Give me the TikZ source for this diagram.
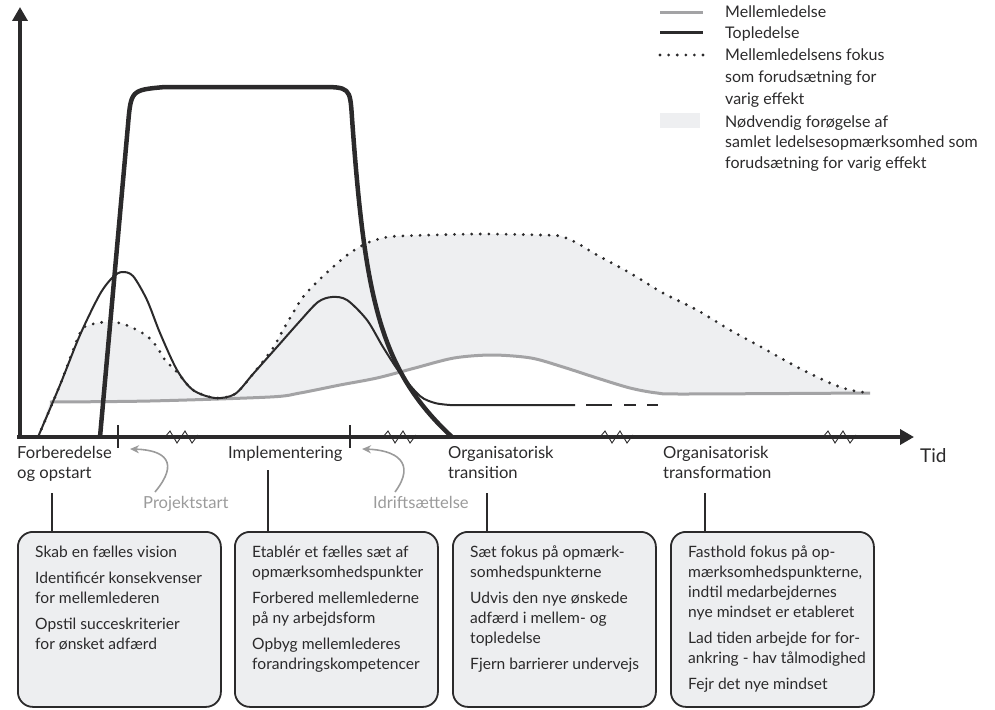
\documentclass[tikz,border=0pt]{standalone}
\usepackage{fontspec}
\setmainfont{Lato}
\usetikzlibrary{arrows.meta,positioning}
\definecolor{ink}{HTML}{2B2A2B}
\definecolor{midgray}{HTML}{A3A3A5}
\definecolor{areafill}{HTML}{EEEFF1}
\definecolor{boxfill}{HTML}{EDEEF0}
\definecolor{labelgray}{HTML}{9B9B9B}
\tikzset{
  akse/.style={line width=4pt,ink,-{Triangle[length=14pt,width=15pt]}},
  toplinje/.style={line width=4.5pt,ink,line join=round},
  topthin/.style={line width=2pt,ink},
  midlinje/.style={line width=3pt,midgray},
  fokus/.style={line width=3.1pt,ink,line cap=round,dash pattern=on 0pt off 8.6pt},
  brk/.style={line width=0.9pt,ink},
  tickline/.style={line width=2pt,ink},
  phase/.style={font=\fontsize{16.6}{20}\selectfont,text=ink,align=left,inner sep=0pt,anchor=base west},
  milestone/.style={phase,text=labelgray},
  gpil/.style={line width=1.6pt,labelgray,-{Stealth[length=9pt,width=8pt]}},
  conn/.style={line width=1.5pt,ink},
  stagebox/.style={draw=ink,line width=1.8pt,fill=boxfill,rounded corners=15pt,minimum width=203pt,minimum height=175pt,anchor=north west,inner sep=0pt},
  stagetext/.style={font=\fontsize{15.6}{20}\selectfont,text=ink,align=left,inner sep=0pt,anchor=north west},
  legtext/.style={font=\fontsize{16}{20.5}\selectfont,text=ink,align=left,inner sep=0pt,anchor=base west}
}
\begin{document}
\begin{tikzpicture}[x=1pt,y=-1pt]
\useasboundingbox (0,0) rectangle (995,709);
% shaded area between fokus and mellemledelse
\fill[areafill] plot[smooth] coordinates {(38,437) (60,385) (80,333) (90,325) (105,322) (120,323) (133,328) (147,336) (157,347) (165,360) (177,372) (193,390) (215,398) (235,394) (253,374) (273,348) (283,330) (293,313) (303,297) (317,282) (333,267) (350,253) (367,243) (383,238) (400,236) (480,234) (540,235) (560,236) (577,243) (597,255) (630,273) (663,293) (697,310) (730,330) (763,348) (797,367) (830,383) (850,390) (870,393)}
  -- plot[smooth] coordinates {(870,393) (685,394) (657,393) (630,388) (597,378) (563,367) (531,358) (492,355) (454,358) (415,368) (377,378) (340,385) (300,393) (270,397) (150,401) (50,402)} -- cycle;
% mellemledelse
\draw[midlinje] plot[smooth] coordinates {(50,402) (150,401) (270,397) (300,393) (340,385) (377,378) (415,368) (454,358) (492,355) (531,358) (563,367) (597,378) (630,388) (657,393) (685,394) (870,393)};
% fokus
\draw[fokus] plot[smooth] coordinates {(38,437) (60,385) (80,333) (90,325) (105,322) (120,323) (133,328) (147,336) (157,347) (165,360) (177,372) (193,390) (215,398) (235,394) (253,374) (273,348) (283,330) (293,313) (303,297) (317,282) (333,267) (350,253) (367,243) (383,238) (400,236) (480,234) (540,235) (560,236) (577,243) (597,255) (630,273) (663,293) (697,310) (730,330) (763,348) (797,367) (830,383) (850,390) (870,393)};
% topledelse, tynd
\draw[topthin] plot[smooth] coordinates {(38,437) (60,385) (80,335) (100,294) (113,277) (122,272) (133,276) (147,300) (160,333) (177,370) (193,390) (215,398) (235,394) (253,374) (277,347) (300,321) (318,302) (332,297) (347,300) (367,320) (383,347) (400,373) (420,396) (435,403) (450,405)} -- (575,405);
\draw[topthin] (586,405) -- (612,405) (624,405) -- (636,405) (647,405) -- (658,405);
% topledelse, tyk
\draw[toplinje] (100,437) -- (128,125) .. controls (131,90) .. (165,87) -- (318,87) .. controls (350,87) .. (352,118) .. controls (365,300) and (380,370) .. (452,437);
% akser
\coordinate (O) at (20,437);
\coordinate (ytop) at (20,7);
\coordinate (xstart) at (17,437);
\coordinate (xend) at (914,437);
\draw[akse] (O) -- (ytop);
\draw[akse] (xstart) -- (xend);
\draw[tickline] (118,425) -- (118,448);
\draw[tickline] (350,425) -- (350,448);
\foreach \z in {165,383,600,823}
  \draw[brk] (\z,437) -- ++(5,-6) -- ++(7,12) -- ++(8,-12) -- ++(7,12) -- ++(6,-8);
% faser
\node[phase] (fo) at (17,478) {Forberedelse\\og opstart};
\node[phase] (im) at (228,458) {Implementering};
\node[phase] (ot) at (448,478) {Organisatorisk\\transition};
\node[phase] (of) at (663,478) {Organisatorisk\\transformation};
\node[phase,font=\fontsize{19}{22}\selectfont] (tid) at (920,462) {Tid};
\node[milestone] (ps) at (143,508) {Projektstart};
\node[milestone] (id) at (373,508) {Idriftsættelse};
\coordinate (pstip) at (130,449);
\coordinate (idtip) at (362,449);
\draw[gpil] ([xshift=12pt,yshift=16pt]ps.base west) .. controls +(25,-30) and +(35,1) .. (pstip);
\draw[gpil] ([xshift=22pt,yshift=16pt]id.base west) .. controls +(22,-30) and +(33,1) .. (idtip);
% bokse
\node[stagebox] (b1) at (17,531) {};
\node[stagebox] (b2) at (234,531) {};
\node[stagebox] (b3) at (452,531) {};
\node[stagebox] (b4) at (670,531) {};
\draw[conn] ([xshift=35pt,yshift=-15pt]fo.base west) -- ([xshift=35pt]b1.north west);
\draw[conn] ([xshift=40pt,yshift=-12pt]im.base west) -- ([xshift=34pt]b2.north west);
\draw[conn] ([xshift=39pt,yshift=-15pt]ot.base west) -- ([xshift=35pt]b3.north west);
\draw[conn] ([xshift=42pt,yshift=-15pt]of.base west) -- ([xshift=35pt]b4.north west);
\node[stagetext] (t1) at ([xshift=18pt,yshift=-15pt]b1.north west) {Skab en fælles vision\\[6pt]Identificér konsekvenser\\for mellemlederen\\[6pt]Opstil succeskriterier\\for ønsket adfærd};
\node[stagetext] (t2) at ([xshift=18pt,yshift=-15pt]b2.north west) {Etablér et fælles sæt af\\opmærksomhedspunkter\\[6pt]Forbered mellemlederne\\på ny arbejdsform\\[6pt]Opbyg mellemlederes\\forandringskompetencer};
\node[stagetext] (t3) at ([xshift=18pt,yshift=-15pt]b3.north west) {Sæt fokus på opmærk-\\somhedspunkterne\\[6pt]Udvis den nye ønskede\\adfærd i mellem- og\\topledelse\\[6pt]Fjern barrierer undervejs};
\node[stagetext] (t4) at ([xshift=18pt,yshift=-15pt]b4.north west) {Fasthold fokus på op-\\mærksomhedspunkterne,\\indtil medarbejdernes\\nye mindset er etableret\\[6pt]Lad tiden arbejde for for-\\ankring - hav tålmodighed\\[6pt]Fejr det nye mindset};
% forklaring
\draw[midlinje] (660,13) -- (703,13);
\draw[line width=3pt,ink] (660,33) -- (703,33);
\draw[fokus] (660,55) -- (703.5,55);
\fill[areafill] (660,113) rectangle (700,128);
\node[legtext] (l1) at (725,18) {Mellemledelse};
\node[legtext] (l2) at (725,38) {Topledelse};
\node[legtext,font=\fontsize{16}{22}\selectfont] (l3) at (725,104) {Mellemledelsens fokus\\som forudsætning for\\varig effekt};
\node[legtext] (l4) at (725,168) {Nødvendig forøgelse af\\samlet ledelsesopmærksomhed som\\forudsætning for varig effekt};
\end{tikzpicture}
\end{document}
